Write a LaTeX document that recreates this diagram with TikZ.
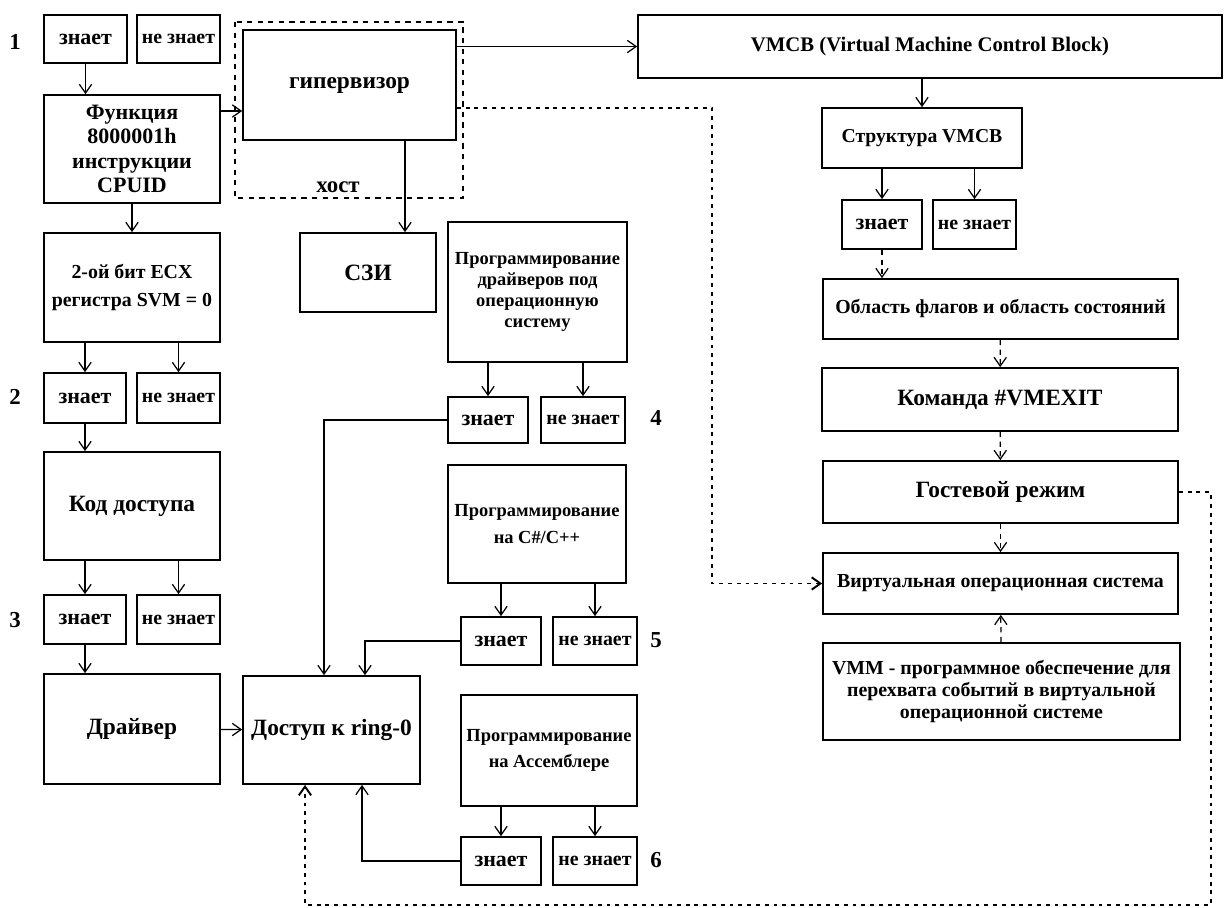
\documentclass[tikz,border=0pt]{standalone}
\usepackage{fontspec}
\setmainfont{Liberation Serif}
\usetikzlibrary{arrows.meta}
\begin{document}
\begin{tikzpicture}[x=0.02cm,y=-0.02cm,
        box/.style={draw,line width=1pt,align=center,inner sep=1pt,font=\bfseries\fontsize{12.5}{14}\selectfont},
        bbox/.style={box,font=\bfseries\fontsize{13.3}{15}\selectfont},
        sbox/.style={box,font=\bfseries\fontsize{11.3}{12.5}\selectfont},
        pbox/.style={box,font=\bfseries\fontsize{10.5}{12}\selectfont},
        num/.style={font=\bfseries\fontsize{13}{15}\selectfont},
        arr/.style={-{Straight Barb[length=5pt,width=7pt]},line width=0.7pt},
        dsharr/.style={arr,dash pattern=on 3pt off 2.5pt},
        dotarr/.style={arr,line width=1.1pt,dash pattern=on 2.2pt off 2.8pt}]
            \useasboundingbox (0,0) rectangle (1225,907);
            \node[num] (n1) at (15,42) {1};
            \node[num] (n2) at (15,397) {2};
            \node[num] (n3) at (15,620) {3};
            \node[num] (n4) at (656,418) {4};
            \node[num] (n5) at (656,640) {5};
            \node[num] (n6) at (656,860) {6};
            \node[box,minimum width=1.66cm,minimum height=0.96cm] (zn1) at (85.5,39) {знает};
            \node[sbox,minimum width=1.66cm,minimum height=0.96cm] (nz1) at (178.5,39) {не знает};
            \node[box,minimum width=3.52cm,minimum height=2.16cm] (func) at (132,149) {Функция\\8000001h\\инструкции\\CPUID};
            \node[sbox,minimum width=3.52cm,minimum height=2.18cm] (bit) at (132,287.5) {2-ой бит ECX\\[4pt]регистра SVM = 0};
            \node[box,minimum width=1.64cm,minimum height=1cm] (zn2) at (85,398) {знает};
            \node[sbox,minimum width=1.66cm,minimum height=1cm] (nz2) at (178.5,398) {не знает};
            \node[bbox,minimum width=3.52cm,minimum height=2.16cm] (kod) at (132,506) {Код доступа};
            \node[box,minimum width=1.64cm,minimum height=0.98cm] (zn3) at (85,619.5) {знает};
            \node[sbox,minimum width=1.66cm,minimum height=0.98cm] (nz3) at (178.5,619.5) {не знает};
            \node[bbox,minimum width=3.52cm,minimum height=2.2cm] (drv) at (132,729) {Драйвер};
            \draw[dashed,line width=1pt] (235,22) rectangle (463,198);
            \node[bbox,minimum width=4.26cm,minimum height=2.2cm] (hyp) at (349.5,85) {гипервизор};
            \node[num] (host) at (338,187) {хост};
            \node[bbox,minimum width=2.72cm,minimum height=1.58cm] (szi) at (368,272.5) {СЗИ};
            \node[bbox,minimum width=3.54cm,minimum height=2.16cm] (ring) at (331.5,730) {Доступ к ring-0};
            \node[pbox,minimum width=3.58cm,minimum height=2.8cm] (prd) at (537.5,292) {Программирование\\драйверов под\\операционную\\систему};
            \node[box,minimum width=1.6cm,minimum height=0.92cm] (zn4) at (488,420) {знает};
            \node[sbox,minimum width=1.68cm,minimum height=0.92cm] (nz4) at (583,420) {не знает};
            \node[pbox,minimum width=3.56cm,minimum height=2.36cm] (prc) at (537,524) {Программирование\\[3pt]на C\#/C++};
            \node[box,minimum width=1.6cm,minimum height=0.96cm] (zn5) at (501,641) {знает};
            \node[sbox,minimum width=1.68cm,minimum height=0.96cm] (nz5) at (595,641) {не знает};
            \node[pbox,minimum width=3.52cm,minimum height=2.22cm] (pra) at (549,750.5) {Программирование\\[3pt]на Ассемблере};
            \node[box,minimum width=1.6cm,minimum height=0.96cm] (zn6) at (501,861) {знает};
            \node[sbox,minimum width=1.68cm,minimum height=0.96cm] (nz6) at (595,861) {не знает};
            \node[box,font=\bfseries\fontsize{11.8}{14}\selectfont,minimum width=11.68cm,minimum height=1.26cm] (vmcb) at (930,46.5) {VMCB (Virtual Machine Control Block)};
            \node[box,font=\bfseries\fontsize{11.2}{14}\selectfont,minimum width=4cm,minimum height=1.2cm] (str) at (922,138) {Структура VMCB};
            \node[box,minimum width=1.6cm,minimum height=0.98cm] (zn7) at (882,224.5) {знает};
            \node[sbox,minimum width=1.66cm,minimum height=0.98cm] (nz7) at (974.5,224.5) {не знает};
            \node[sbox,minimum width=7.1cm,minimum height=1.2cm] (flg) at (1000.5,309) {Область флагов и область состояний};
            \node[bbox,minimum width=7.12cm,minimum height=1.26cm] (cmd) at (1000,399.5) {Команда \#VMEXIT};
            \node[bbox,minimum width=7.1cm,minimum height=1.24cm] (gst) at (1000.5,492) {Гостевой режим};
            \node[sbox,minimum width=7.1cm,minimum height=1.22cm] (vos) at (1000.5,583.5) {Виртуальная операционная система};
            \node[sbox,minimum width=7.14cm,minimum height=1.94cm] (vmm) at (1001.5,691.5) {VMM - программное обеспечение для\\перехвата событий в виртуальной\\операционной системе};
            \draw[arr] (zn1) -- (zn1 |- func.north);
            \draw[arr] (func) -- (bit);
            \draw[arr] (bit.south -| zn2.north) -- (zn2);
            \draw[arr] (bit.south -| nz2.north) -- (nz2);
            \draw[arr] (zn2) -- (zn2 |- kod.north);
            \draw[arr] (kod.south -| zn3.north) -- (zn3);
            \draw[arr] (kod.south -| nz3.north) -- (nz3);
            \draw[arr] (zn3) -- (zn3 |- drv.north);
            \draw[arr] ([yshift=0.76cm]func.east) -- ([yshift=0.76cm]func.east -| hyp.west);
            \draw[arr] ([xshift=1.11cm]hyp.south) -- ([xshift=1.11cm]hyp.south |- szi.north);
            \draw[arr] (hyp.east |- vmcb.west) -- (vmcb.west);
            \draw[arr] (drv) -- (ring);
            \draw[arr] (prd.south -| zn4.north) -- (zn4);
            \draw[arr] (prd.south -| nz4.north) -- (nz4);
            \draw[arr] (prc.south -| zn5.north) -- (zn5);
            \draw[arr] (prc.south -| nz5.north) -- (nz5);
            \draw[arr] (pra.south -| zn6.north) -- (zn6);
            \draw[arr] (pra.south -| nz6.north) -- (nz6);
            \draw[arr] (zn4.west) -| ([xshift=-0.15cm]ring.north);
            \draw[arr] (zn5.west) -| ([xshift=0.67cm]ring.north);
            \draw[arr] (zn6.west) -| ([xshift=0.61cm]ring.south);
            \draw[arr] (str.north |- vmcb.south) -- (str.north);
            \draw[arr] (str.south -| zn7.north) -- (zn7);
            \draw[arr] (str.south -| nz7.north) -- (nz7);
            \draw[dsharr] (zn7) -- (zn7 |- flg.north);
            \draw[dsharr] (flg) -- (cmd);
            \draw[dsharr] (cmd) -- (gst);
            \draw[dsharr] (gst) -- (vos);
            \draw[dsharr] (vmm) -- (vos);
            \draw[dotarr] ([yshift=-0.46cm]hyp.east) -| ([xshift=-2.2cm]vos.west) -- (vos.west);
            \draw[dotarr] (gst.east) -- ++(32,0) -- ++(0,413) -| ([xshift=-0.53cm]ring.south);
        \end{tikzpicture}
\end{document}
